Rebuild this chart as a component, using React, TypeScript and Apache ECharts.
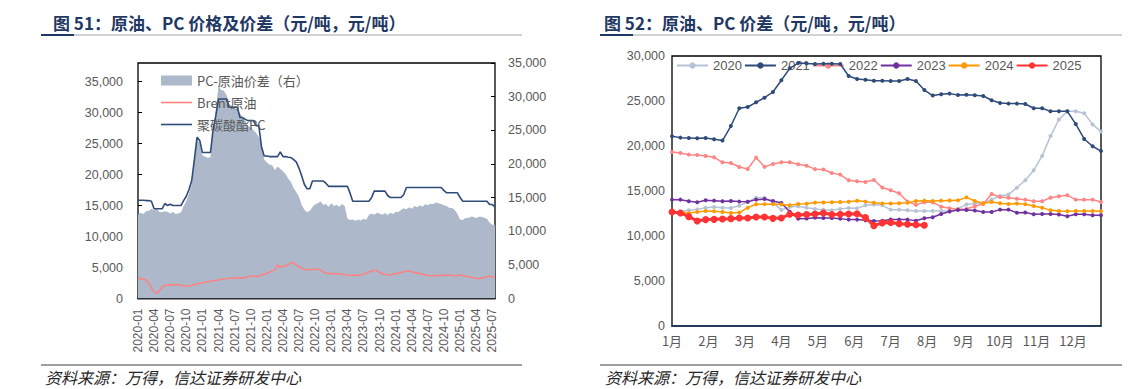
import React, { useEffect, useRef } from "react";
import * as echarts from "echarts";

// ---------- texts ----------
const leftTitle = "图 51：原油、PC 价格及价差（元/吨，元/吨）";
const rightTitle = "图 52：原油、PC 价差（元/吨，元/吨）";
const sourceText = "资料来源：万得，信达证券研发中心";
const leftSeriesNames = ["PC-原油价差（右）", "Brent原油", "聚碳酸酯PC"];

// ---------- left chart: semi-monthly categories 2020-01 .. 2025-07 ----------
const leftDates: string[] = [];
for (let y = 2020; y <= 2025; y++) {
  for (let m = 1; m <= 12; m++) {
    if (y === 2025 && m > 7) break;
    const mm = String(m).padStart(2, "0");
    leftDates.push(`${y}-${mm}-01`, `${y}-${mm}-16`);
  }
}

// PC price (left axis)
const pcPrice = [
  15860, 15860, 15860, 15800, 15800, 15700, 14470, 14470, 14470, 14470,
  15330, 15000, 15200, 15000, 15000, 15000, 15000, 15800, 16500, 17600,
  19000, 22400, 26000, 25500, 23550, 23550, 23550, 23550, 27300, 29500,
  32200, 32200, 32200, 32200, 30850, 30850, 30850, 30850, 29200, 29200,
  28900, 28700, 28700, 28700, 27900, 27900, 24500, 23000, 23000, 22900,
  22900, 22900, 22900, 23650, 22900, 22900, 22800, 22740, 22400, 22000,
  21000, 19750, 18400, 17710, 17710, 18950, 18950, 18950, 18950, 18950,
  18600, 18100, 18100, 18100, 18100, 18100, 18100, 18100, 18100, 17000,
  15700, 15700, 15700, 15700, 15700, 15700, 15700, 16250, 17320, 17320,
  17320, 17320, 17320, 16620, 16300, 16300, 16300, 16300, 16300, 16790,
  17900, 17900, 17900, 17900, 17900, 17900, 17900, 17900, 17900, 17900,
  17900, 17900, 17900, 17900, 17400, 17060, 17060, 17060, 17060, 17060,
  16300, 15700, 15700, 15700, 15700, 15700, 15700, 15700, 15700, 15700,
  15700, 15160, 15160, 14790,
];

// Brent crude (left axis, RMB/t)
const brentPrice = [
  3270, 3200, 3100, 3000, 2500, 1650, 1100, 840, 1300, 1910,
  2100, 2190, 2200, 2190, 2250, 2200, 2150, 2050, 2000, 2050,
  2100, 2250, 2350, 2460, 2550, 2600, 2730, 2750, 2850, 2950,
  3000, 3100, 3150, 3200, 3270, 3300, 3350, 3300, 3350, 3270,
  3400, 3500, 3600, 3650, 3550, 3600, 3800, 3950, 4080, 4250,
  4450, 4620, 5430, 5000, 5300, 5200, 5500, 5810, 5700, 5400,
  5100, 4900, 4700, 4620, 4700, 4650, 4700, 4750, 4600, 4300,
  4080, 4050, 4080, 4000, 4050, 3950, 3900, 3850, 3810, 3700,
  3750, 3800, 3700, 3810, 3900, 4100, 4300, 4350, 4620, 4500,
  4200, 4000, 3900, 3810, 3810, 3900, 4000, 4100, 4200, 4300,
  4400, 4460, 4300, 4200, 4100, 4000, 3900, 3800, 3700, 3650,
  3700, 3650, 3750, 3800, 3700, 3750, 3800, 3700, 3650, 3700,
  3800, 3700, 3600, 3550, 3450, 3350, 3270, 3200, 3300, 3400,
  3500, 3650, 3450, 3400,
];

// PC - crude spread (right axis)
const spread = [
  12460, 12750, 12550, 12950, 13050, 13350, 13150, 13300, 12850, 12850,
  12950, 12900, 12650, 12850, 12550, 12650, 12800, 13700, 14500, 15600,
  17000, 20300, 23650, 23000, 21300, 21070, 20900, 21000, 24650, 28100,
  31600, 31000, 30860, 30200, 28880, 28600, 28200, 28130, 27500, 26890,
  26300, 25640, 25400, 25000, 24650, 24000, 23160, 20670, 20200, 19920,
  19800, 19100, 19600, 19300, 18900, 18500, 17800, 17300, 16400, 15800,
  15100, 13900, 13200, 12800, 13000, 13600, 14000, 14150, 14450, 13950,
  14050, 13650, 14150, 13750, 13950, 13650, 14050, 13750, 11900, 11650,
  11750, 11550, 11750, 11600, 11850, 11700, 12400, 12650, 12450, 12750,
  12650, 12450, 12700, 12400, 12750, 12550, 12850, 12850, 13150, 13400,
  13250, 13550, 13350, 13750, 13550, 13850, 13650, 14000, 13900, 14100,
  14050, 14250, 14150, 14050, 13850, 13750, 13450, 13450, 13150, 12550,
  11750, 11650, 11950, 11950, 12150, 12150, 11950, 12150, 12150, 12000,
  11850, 11250, 10950, 10970,
];

// ---------- right chart: weekly spreads by year ----------
const weeks = Array.from({ length: 52 }, (_, i) => i);
const monthNames = ["1月", "2月", "3月", "4月", "5月", "6月", "7月", "8月", "9月", "10月", "11月", "12月"];
const yearNames = ["2020", "2021", "2022", "2023", "2024", "2025"];

const y2020 = [
  12670, 12740, 12850, 12960, 13150, 13220, 13150, 13110, 13370, 13780,
  14260, 14260, 13710, 12900, 13220, 13300, 13150, 13000, 12930, 12850,
  13000, 13110, 13070, 13410, 13500, 13410, 12930, 12930, 12850, 12780,
  12780, 12780, 12780, 12780, 13040, 13490, 13600, 13670, 14040, 14440,
  14600, 15370, 16200, 17300, 18900, 21100, 22950, 23850, 23850, 23650,
  22400, 21600,
];
const y2021 = [
  21080, 20930, 20900, 20870, 20900, 20740, 20600, 22220, 24190, 24330,
  24850, 25370, 26000, 27300, 28630, 29220, 29180, 29110, 29150, 29150,
  29110, 27780, 27440, 27370, 27260, 27260, 27220, 27220, 27440, 27220,
  26220, 25600, 25740, 25820, 25670, 25700, 25630, 25560, 25080, 24780,
  24710, 24710, 24670, 24190, 24190, 23850, 23850, 23850, 22440, 20780,
  19970, 19440,
];
const y2022 = [
  19330, 19220, 19040, 19000, 18890, 18740, 18190, 18110, 17670, 17440,
  18710, 17680, 18000, 18200, 18200, 17980, 17800, 17430, 17390, 17000,
  16820, 16190, 16080, 16000, 16230, 15380, 15080, 14750, 13820, 13460,
  13740, 13740, 13260, 13090, 12980, 13000, 13300, 13560, 14670, 14330,
  14240, 14150, 14040, 13860, 13860, 14260, 14410, 14520, 14040, 14040,
  14040, 13780,
];
const y2023 = [
  14040, 14040, 13860, 13740, 13970, 13930, 13860, 13900, 13820, 13800,
  14040, 14100, 13890, 13660, 12700, 11930, 11950, 12040, 12000, 12000,
  11930, 11820, 11820, 11740, 11670, 11700, 11840, 11820, 11820, 11700,
  11980, 12080, 12450, 12720, 12900, 12900, 12830, 12670, 12670, 12930,
  12930, 12580, 12600, 12410, 12450, 12450, 12380, 12190, 12410, 12410,
  12300, 12300,
];
const y2024 = [
  12670, 12670, 12560, 12670, 12780, 12740, 12670, 12560, 12600, 13150,
  13520, 13540, 13540, 13500, 13420, 13560, 13580, 13710, 13730, 13760,
  13780, 13800, 13910, 13820, 13690, 13600, 13600, 13650, 13690, 13890,
  13930, 13890, 13930, 13950, 13960, 14290, 13890, 13640, 13780, 13640,
  13550, 13600, 13520, 13330, 13150, 12850, 12780, 12750, 12780, 12780,
  12780, 12740,
];
const y2025 = [
  12670, 12560, 12150, 11670, 11820, 11850, 11890, 11930, 12000, 12000,
  12110, 12110, 11960, 12000, 12410, 12340, 12380, 12450, 12560, 12380,
  12410, 12450, 12480, 12040, 11150, 11460, 11500, 11370, 11300, 11250,
  11190,
];
const yearValues = [y2020, y2021, y2022, y2023, y2024, y2025];
const yearColors = ["#B7C3D5", "#2E4B7A", "#FF8585", "#7030A0", "#FF9900", "#FF3333"];

const fmt = (v: number) => String(v).replace(/\B(?=(\d{3})+(?!\d))/g, ",");
const GRAY = "#595959";
const NUM_FONT = "Liberation Sans";
const CJK_FONT = "Noto Sans CJK SC";
const MONTH_STEP = 52 / 12;
const LINE_ICON = "path://M0,0H31V1.6H0Z";

export default function App() {
  const ref = useRef<HTMLDivElement>(null);

  useEffect(() => {
    if (!ref.current) return;
    const chart = echarts.init(ref.current, null, { renderer: "svg" });

    const quarterly = (i: number) => i % 6 === 0;

    const rightSeries = yearNames.map((name, k) => ({
      name,
      type: "line",
      xAxisIndex: 1,
      yAxisIndex: 2,
      data: yearValues[k].map((v, i) => [weeks[i], v]),
      symbol: "circle",
      symbolSize: k === 5 ? 7 : 4,
      showSymbol: true,
      itemStyle: { color: yearColors[k] },
      lineStyle: { color: yearColors[k], width: k === 5 ? 3 : 1.5 },
      z: 3 + k,
    }));

    const option: any = {
      animation: false,
      textStyle: { fontFamily: NUM_FONT },
      grid: [
        {
          left: 138, top: 63, width: 357, height: 235.5,
          show: true, borderColor: "#000", borderWidth: 1.3, backgroundColor: "transparent",
        },
        {
          left: 672, top: 56, width: 429, height: 270,
          show: true, borderColor: "#000", borderWidth: 1.3, backgroundColor: "transparent",
        },
      ],
      legend: [
        {
          orient: "vertical",
          left: 161, top: 74, padding: 0,
          itemWidth: 31, itemHeight: 10, itemGap: 9,
          textStyle: { color: GRAY, fontSize: 13, fontFamily: CJK_FONT },
          data: [
            { name: leftSeriesNames[0], icon: "rect" },
            { name: leftSeriesNames[1], icon: LINE_ICON },
            { name: leftSeriesNames[2], icon: LINE_ICON },
          ],
        },
        {
          orient: "horizontal",
          left: 676, top: 59, padding: 0,
          itemWidth: 31, itemHeight: 8, itemGap: 2,
          textStyle: { color: GRAY, fontSize: 13, fontFamily: NUM_FONT },
          data: yearNames,
        },
      ],
      xAxis: [
        {
          type: "category",
          gridIndex: 0,
          data: leftDates,
          boundaryGap: false,
          axisLine: { lineStyle: { color: "#000", width: 1.3 } },
          axisTick: { inside: true, length: 4, interval: quarterly, lineStyle: { color: "#000" } },
          axisLabel: {
            rotate: 90, interval: quarterly, margin: 10,
            color: GRAY, fontSize: 12, fontFamily: NUM_FONT,
            formatter: (v: string) => v.slice(0, 7),
          },
          splitLine: { show: false },
        },
        {
          type: "value",
          gridIndex: 1,
          min: 0, max: 51, interval: MONTH_STEP,
          axisLine: { lineStyle: { color: "#1F3864", width: 1.5 } },
          axisTick: { show: false },
          axisLabel: {
            margin: 8, color: GRAY, fontSize: 13, fontFamily: CJK_FONT,
            showMaxLabel: false,
            formatter: (v: number) => {
              const k = Math.round(v / MONTH_STEP);
              return k < 12 ? monthNames[k] : "";
            },
          },
          splitLine: { show: false },
        },
      ],
      yAxis: [
        {
          type: "value", gridIndex: 0, position: "left",
          min: 0, max: 38000, interval: 5000,
          axisLine: { show: false },
          axisTick: { show: true, inside: true, length: 4, lineStyle: { color: "#000" } },
          axisLabel: { margin: 15, color: GRAY, fontSize: 12.5, showMaxLabel: false, formatter: fmt },
          splitLine: { show: false },
        },
        {
          type: "value", gridIndex: 0, position: "right",
          min: 0, max: 35000, interval: 5000,
          axisLine: { show: false },
          axisTick: { show: true, inside: true, length: 4, lineStyle: { color: "#000" } },
          axisLabel: { margin: 13, color: GRAY, fontSize: 12.5, formatter: fmt },
          splitLine: { show: false },
        },
        {
          type: "value", gridIndex: 1,
          min: 0, max: 30000, interval: 5000,
          axisLine: { show: false },
          axisTick: { show: false },
          axisLabel: { margin: 7, color: GRAY, fontSize: 12.5, formatter: fmt },
          splitLine: { show: false },
        },
      ],
      series: [
        {
          name: leftSeriesNames[0],
          type: "line",
          xAxisIndex: 0, yAxisIndex: 1,
          data: spread,
          symbol: "none",
          itemStyle: { color: "#ADB9CA" },
          lineStyle: { width: 0, color: "#ADB9CA" },
          areaStyle: { color: "#ADB9CA", opacity: 1 },
          z: 1,
        },
        {
          name: leftSeriesNames[1],
          type: "line",
          xAxisIndex: 0, yAxisIndex: 0,
          data: brentPrice,
          symbol: "none",
          itemStyle: { color: "#FF8080" },
          lineStyle: { width: 1.5, color: "#FF8080" },
          z: 2,
        },
        {
          name: leftSeriesNames[2],
          type: "line",
          xAxisIndex: 0, yAxisIndex: 0,
          data: pcPrice,
          symbol: "none",
          itemStyle: { color: "#2E4B7A" },
          lineStyle: { width: 1.6, color: "#2E4B7A" },
          z: 3,
        },
        ...rightSeries,
      ],
      graphic: [
        { type: "text", x: 53, y: 22, style: { text: leftTitle, font: `bold 17px "${CJK_FONT}"`, fill: "#1F3864", verticalAlign: "middle" } },
        { type: "text", x: 604, y: 22, style: { text: rightTitle, font: `bold 17px "${CJK_FONT}"`, fill: "#1F3864", verticalAlign: "middle" } },
        { type: "line", shape: { x1: 41, y1: 35, x2: 522, y2: 35 }, style: { stroke: "#A6A6A6", lineWidth: 1 } },
        { type: "line", shape: { x1: 41, y1: 35, x2: 74, y2: 35 }, style: { stroke: "#1F3864", lineWidth: 2 } },
        { type: "line", shape: { x1: 600, y1: 35, x2: 1122, y2: 35 }, style: { stroke: "#A6A6A6", lineWidth: 1 } },
        { type: "line", shape: { x1: 600, y1: 35, x2: 633, y2: 35 }, style: { stroke: "#1F3864", lineWidth: 2 } },
        { type: "line", shape: { x1: 41, y1: 365, x2: 522, y2: 365 }, style: { stroke: "#404040", lineWidth: 1 } },
        { type: "line", shape: { x1: 600, y1: 365, x2: 1122, y2: 365 }, style: { stroke: "#404040", lineWidth: 1 } },
        { type: "text", x: 45, y: 377, style: { text: sourceText, font: `italic 16px "${CJK_FONT}"`, fill: "#262626", verticalAlign: "middle" } },
        { type: "text", x: 605, y: 377, style: { text: sourceText, font: `italic 16px "${CJK_FONT}"`, fill: "#262626", verticalAlign: "middle" } },
      ],
    };

    chart.setOption(option);
    return () => chart.dispose();
  }, []);

  return (
    <div
      ref={ref}
      style={{ position: "absolute", left: 0, top: 0, width: 1137, height: 389, background: "#fff" }}
    />
  );
}
